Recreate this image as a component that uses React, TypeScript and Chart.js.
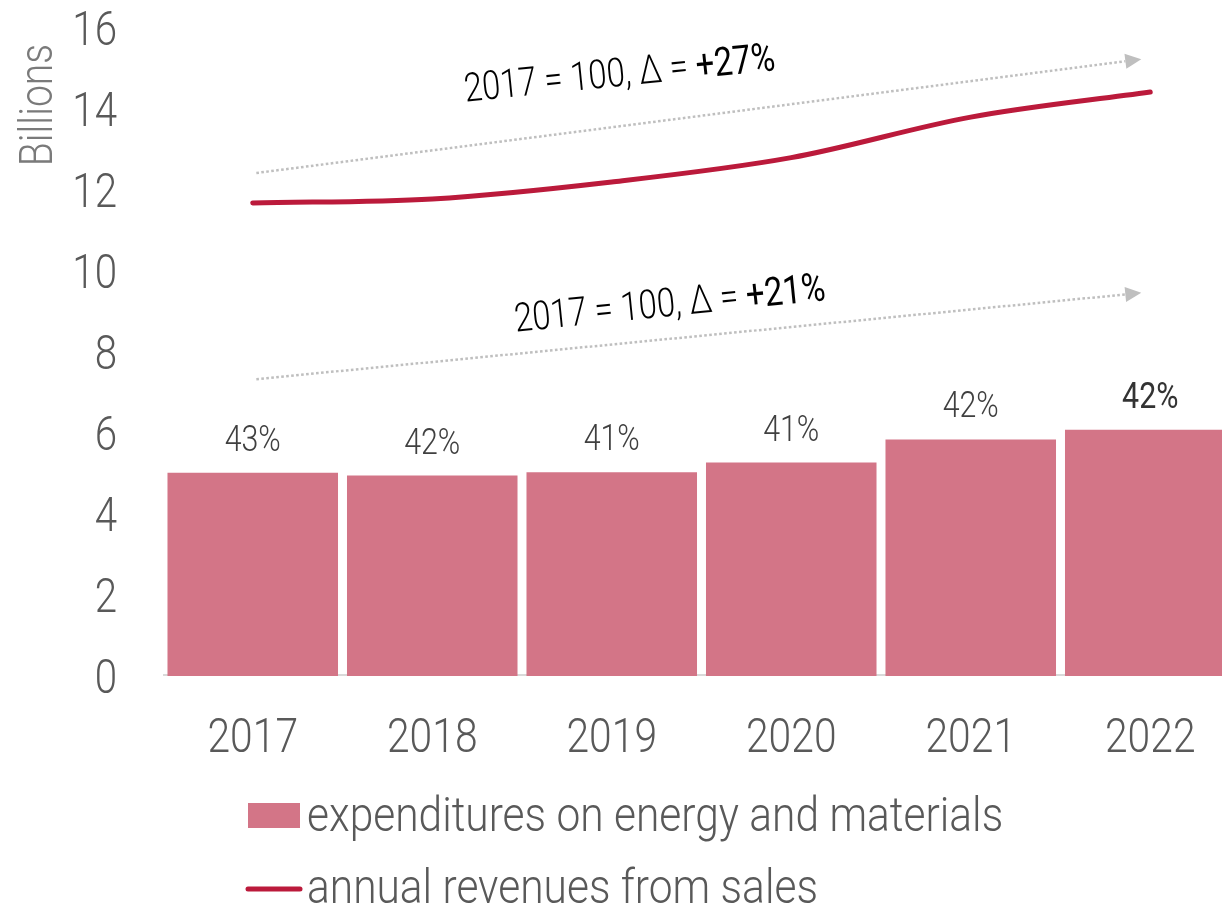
import React, { useEffect, useRef } from "react";
import { Chart, registerables } from "chart.js";

Chart.register(...registerables);

const categories = ["2017", "2018", "2019", "2020", "2021", "2022"];
const expenditures = [5.02, 4.95, 5.03, 5.27, 5.84, 6.08];
const revenues = [11.68, 11.78, 12.2, 12.8, 13.8, 14.42];
const shareLabels = ["43%", "42%", "41%", "41%", "42%", "42%"];
const yTicks = [0, 2, 4, 6, 8, 10, 12, 14, 16];
const seriesNames = ["expenditures on energy and materials", "annual revenues from sales"];
const axisTitle = "Billions";

// annotation arrows: [startIndex, startValue, endIndex, endValue]
const arrowUpper = [0.02, 12.42, 4.95, 15.23];
const arrowLower = [0.02, 7.33, 4.95, 9.46];
// annotation texts: prefix, emphasized part, center index, baseline value
const noteUpperPrefix = "2017 = 100, Δ = ";
const noteUpperValue = "+27%";
const noteUpperPos = [2.05, 14.57];
const noteLowerPrefix = "2017 = 100, Δ = ";
const noteLowerValue = "+21%";
const noteLowerPos = [2.33, 8.89];

const BAR_COLOR = "#D37587";
const LINE_COLOR = "#BB1A3B";
const TEXT_GRAY = "#595959";
const FONT = "Roboto, 'Noto Sans', sans-serif";

function drawText(
  ctx: CanvasRenderingContext2D,
  text: string,
  x: number,
  y: number,
  o: { size: number; weight?: number; color: string; align?: CanvasTextAlign; angle?: number; sx?: number }
) {
  ctx.save();
  ctx.translate(x, y);
  if (o.angle) ctx.rotate(o.angle);
  ctx.scale(o.sx ?? 0.82, 1);
  ctx.font = `${o.weight ?? 300} ${o.size}px ${FONT}`;
  ctx.fillStyle = o.color;
  ctx.textAlign = o.align ?? "left";
  ctx.textBaseline = "alphabetic";
  ctx.fillText(text, 0, 0);
  ctx.restore();
}

function drawArrow(ctx: CanvasRenderingContext2D, xs: any, ys: any, a: number[]) {
  const x0 = xs.getPixelForValue(a[0]);
  const y0 = ys.getPixelForValue(a[1]);
  const x1 = xs.getPixelForValue(a[2]);
  const y1 = ys.getPixelForValue(a[3]);
  const ang = Math.atan2(y1 - y0, x1 - x0);
  const headLen = 16;
  const headW = 7.5;
  const bx = x1 - headLen * Math.cos(ang);
  const by = y1 - headLen * Math.sin(ang);
  ctx.save();
  ctx.strokeStyle = "#BFBFBF";
  ctx.lineWidth = 2.5;
  ctx.setLineDash([2.6, 2.4]);
  ctx.beginPath();
  ctx.moveTo(x0, y0);
  ctx.lineTo(bx, by);
  ctx.stroke();
  ctx.setLineDash([]);
  ctx.fillStyle = "#BFBFBF";
  ctx.beginPath();
  ctx.moveTo(x1, y1);
  ctx.lineTo(bx + headW * Math.sin(ang), by - headW * Math.cos(ang));
  ctx.lineTo(bx - headW * Math.sin(ang), by + headW * Math.cos(ang));
  ctx.closePath();
  ctx.fill();
  ctx.restore();
}

function drawNote(ctx: CanvasRenderingContext2D, xs: any, ys: any, prefix: string, value: string, pos: number[], angle: number) {
  const cx = xs.getPixelForValue(pos[0]);
  const cy = ys.getPixelForValue(pos[1]);
  const size = 40;
  const sx = 0.82;
  ctx.save();
  ctx.font = `300 ${size}px ${FONT}`;
  const w1 = ctx.measureText(prefix).width;
  ctx.font = `400 ${size}px ${FONT}`;
  const w2 = ctx.measureText(value).width;
  const total = w1 + w2;
  ctx.translate(cx, cy);
  ctx.rotate(angle);
  ctx.scale(sx, 1);
  ctx.textBaseline = "alphabetic";
  ctx.textAlign = "left";
  ctx.fillStyle = "#000000";
  ctx.font = `300 ${size}px ${FONT}`;
  ctx.fillText(prefix, -total / 2, 0);
  ctx.font = `400 ${size}px ${FONT}`;
  ctx.fillText(value, -total / 2 + w1, 0);
  ctx.restore();
}

const decorPlugin = {
  id: "decor",
  beforeDatasetsDraw(chart: any) {
    const { ctx, chartArea } = chart;
    const xs = chart.scales.x;
    const ys = chart.scales.y;
    drawArrow(ctx, xs, ys, arrowUpper);
    drawArrow(ctx, xs, ys, arrowLower);
    ctx.save();
    ctx.strokeStyle = "#D9D9D9";
    ctx.lineWidth = 2;
    ctx.beginPath();
    ctx.moveTo(chartArea.left, ys.getPixelForValue(0) - 1);
    ctx.lineTo(chartArea.right, ys.getPixelForValue(0) - 1);
    ctx.stroke();
    ctx.restore();
  },
  afterDraw(chart: any) {
    const { ctx, chartArea } = chart;
    const xs = chart.scales.x;
    const ys = chart.scales.y;
    const capH = 0.711;
    yTicks.forEach((v) => {
      drawText(ctx, String(v), 117, ys.getPixelForValue(v) + (48 * capH) / 2, {
        size: 48,
        color: TEXT_GRAY,
        align: "right",
        sx: 0.84,
      });
    });
    drawText(ctx, axisTitle, 52, 105, { size: 46, color: "#7A7A7A", align: "center", angle: -Math.PI / 2, sx: 0.85 });
    categories.forEach((c, i) => {
      drawText(ctx, c, xs.getPixelForValue(i), chartArea.bottom + 76, {
        size: 48,
        color: TEXT_GRAY,
        align: "center",
        sx: 0.85,
      });
    });
    const meta = chart.getDatasetMeta(0);
    meta.data.forEach((bar: any, i: number) => {
      const last = i === shareLabels.length - 1;
      drawText(ctx, shareLabels[i], bar.x, bar.y - 22, {
        size: 37,
        weight: last ? 400 : 300,
        color: last ? "#333333" : "#404040",
        align: "center",
        sx: 0.82,
      });
    });
    const ang = (-5.8 * Math.PI) / 180;
    drawNote(ctx, xs, ys, noteUpperPrefix, noteUpperValue, noteUpperPos, ang);
    drawNote(ctx, xs, ys, noteLowerPrefix, noteLowerValue, noteLowerPos, ang);
    const ds = chart.data.datasets;
    ctx.save();
    ctx.fillStyle = ds[0].backgroundColor;
    ctx.fillRect(248, 803, 52, 25);
    ctx.strokeStyle = ds[1].borderColor;
    ctx.lineWidth = 5;
    ctx.lineCap = "round";
    ctx.beginPath();
    ctx.moveTo(248, 889);
    ctx.lineTo(300, 889);
    ctx.stroke();
    ctx.restore();
    drawText(ctx, ds[0].label, 307, 831, { size: 48, color: TEXT_GRAY, sx: 0.885 });
    drawText(ctx, ds[1].label, 307, 903, { size: 48, color: TEXT_GRAY, sx: 0.885 });
  },
};

export default function App() {
  const ref = useRef<HTMLCanvasElement>(null);
  useEffect(() => {
    if (!ref.current) return;
    const chart = new Chart(ref.current, {
      type: "bar",
      data: {
        labels: categories,
        datasets: [
          {
            type: "bar",
            label: seriesNames[0],
            data: expenditures,
            backgroundColor: BAR_COLOR,
            barPercentage: 0.95,
            categoryPercentage: 1,
            order: 2,
          },
          {
            type: "line",
            label: seriesNames[1],
            data: revenues,
            borderColor: LINE_COLOR,
            backgroundColor: LINE_COLOR,
            borderWidth: 5,
            borderCapStyle: "round",
            pointRadius: 0,
            tension: 0.4,
            cubicInterpolationMode: "monotone",
            order: 1,
          },
        ],
      } as any,
      options: {
        animation: false,
        responsive: false,
        maintainAspectRatio: false,
        layout: { padding: { left: 163, top: 28, right: 0, bottom: 231 } },
        plugins: { legend: { display: false }, tooltip: { enabled: false } },
        scales: {
          x: { display: false, offset: true },
          y: { display: false, min: 0, max: 16 },
        },
      },
      plugins: [decorPlugin],
    });
    return () => chart.destroy();
  }, []);
  return (
    <div style={{ position: "fixed", left: 0, top: 0, width: 1222, height: 907, overflow: "hidden", background: "#fff" }}>
      <canvas ref={ref} width={1240} height={907} style={{ display: "block" }} />
    </div>
  );
}
